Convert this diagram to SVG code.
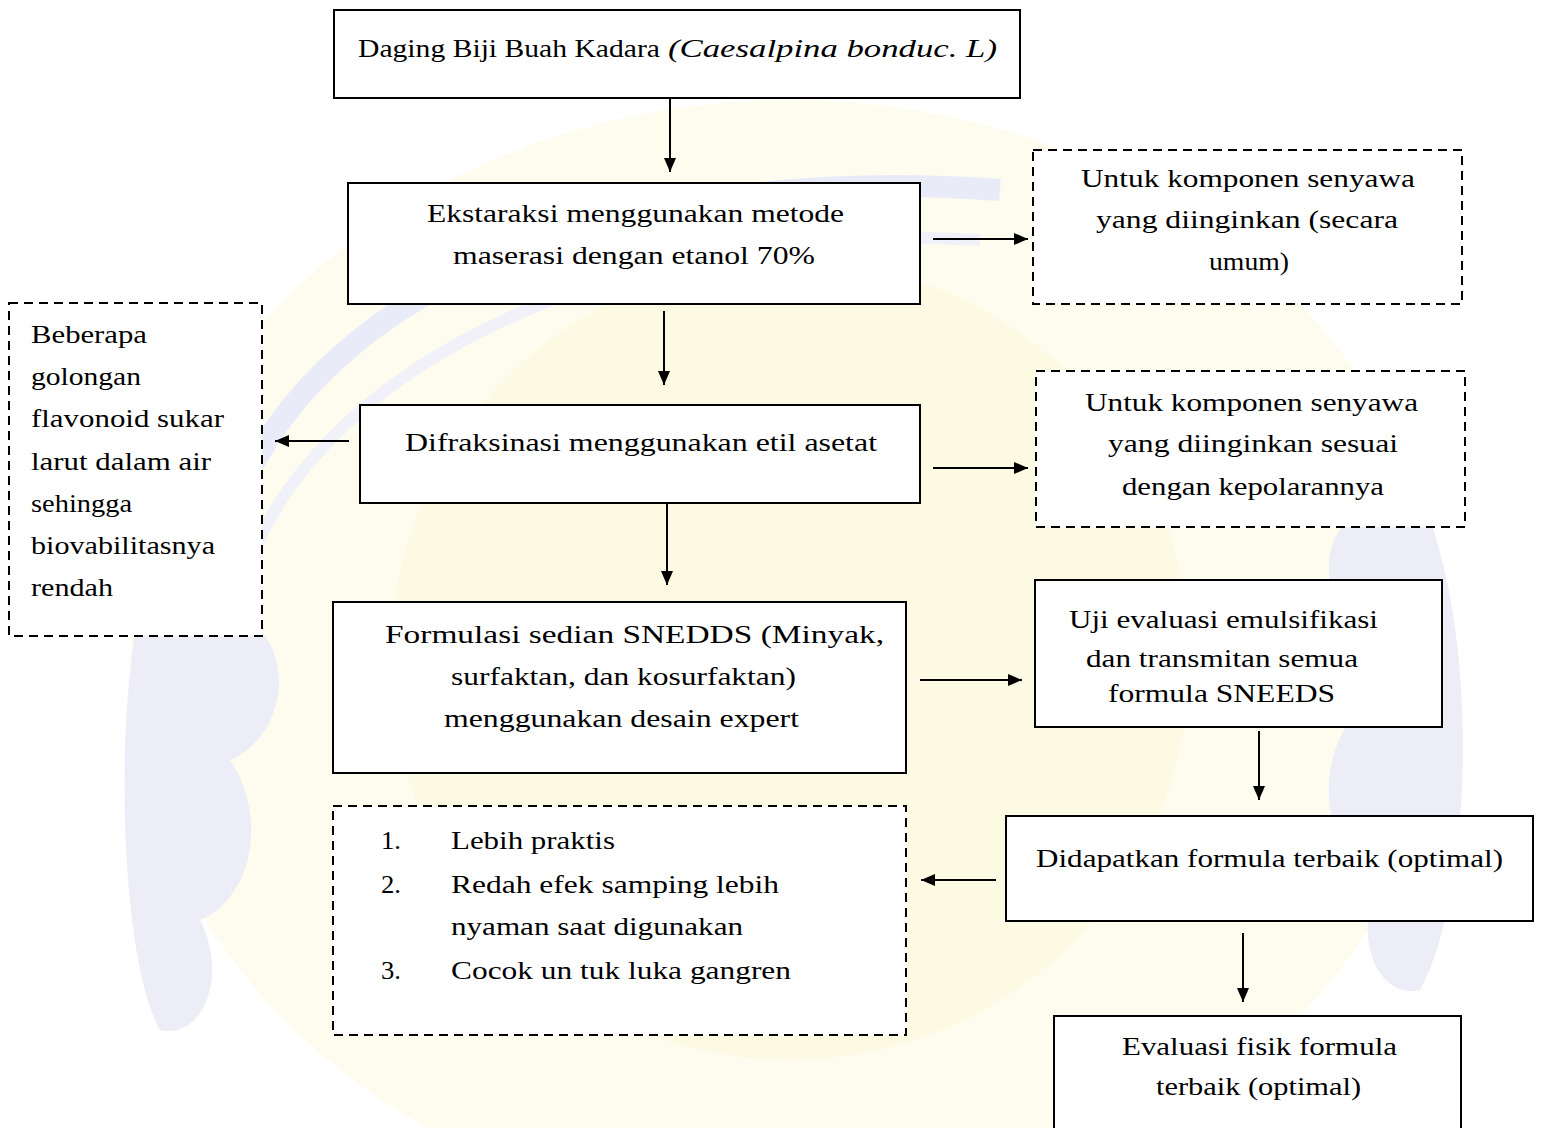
<svg xmlns="http://www.w3.org/2000/svg" width="1541" height="1128" viewBox="0 0 1541 1128">
<style>
  text { font-family: "Liberation Serif", "Times New Roman", serif; font-size: 26px; fill: #000; }
  .box { fill: #fff; stroke: #000; stroke-width: 2; }
  .dbox { fill: #fff; stroke: #000; stroke-width: 2; stroke-dasharray: 9 6; }
  .conn { stroke: #000; stroke-width: 2; fill: none; marker-end: url(#arrow); }
  .it { font-style: italic; }
</style>
<defs>
  <marker id="arrow" viewBox="0 0 14 12" refX="14" refY="6" markerWidth="14" markerHeight="12" markerUnits="userSpaceOnUse" orient="auto">
    <path d="M0,0 L14,6 L0,12 z" fill="#000"/>
  </marker>
</defs>
<rect width="1541" height="1128" fill="#fff"/>
<g id="watermark" opacity="0.5">
  <ellipse cx="790" cy="660" rx="660" ry="560" fill="#fdfbe0"/>
  <path d="M230,520 C300,300 600,160 1000,190" fill="none" stroke="#d6d8f2" stroke-width="22"/>
  <path d="M250,560 C330,360 620,220 980,240" fill="none" stroke="#e4e5f6" stroke-width="12"/>
  <circle cx="790" cy="660" r="400" fill="#fbf6c8"/>
  <path d="M150,560 C200,520 260,560 250,620 C300,660 280,740 230,760 C270,820 250,900 200,920 C230,980 200,1040 160,1030 C120,960 110,700 150,560 z" fill="#dcdcf2"/>
  <path d="M1430,520 C1380,480 1320,520 1330,580 C1280,620 1300,700 1350,720 C1310,780 1330,860 1380,880 C1350,940 1380,1000 1420,990 C1470,900 1480,660 1430,520 z" fill="#dcdcf2"/>
</g>
<g id="connectors">
  <line class="conn" x1="670" y1="98" x2="670" y2="172"/>
  <line class="conn" x1="933" y1="239" x2="1028" y2="239"/>
  <line class="conn" x1="664" y1="311" x2="664" y2="385"/>
  <line class="conn" x1="349" y1="441" x2="275" y2="441"/>
  <line class="conn" x1="933" y1="468" x2="1028" y2="468"/>
  <line class="conn" x1="667" y1="504" x2="667" y2="585"/>
  <line class="conn" x1="920" y1="680" x2="1022" y2="680"/>
  <line class="conn" x1="1259" y1="731" x2="1259" y2="800"/>
  <line class="conn" x1="996" y1="880" x2="921" y2="880"/>
  <line class="conn" x1="1243" y1="933" x2="1243" y2="1002"/>
</g>
<g id="n1">
  <rect class="box" x="334" y="10" width="686" height="88"/>
  <text x="358" y="57" textLength="302" lengthAdjust="spacingAndGlyphs">Daging  Biji  Buah  Kadara</text>
  <text class="it" x="668" y="57" textLength="329" lengthAdjust="spacingAndGlyphs">(Caesalpina bonduc. L)</text>
</g>
<g id="n2">
  <rect class="box" x="348" y="183" width="572" height="121"/>
  <text x="427" y="222" textLength="417" lengthAdjust="spacingAndGlyphs">Ekstaraksi  menggunakan  metode</text>
  <text x="453" y="264" textLength="362" lengthAdjust="spacingAndGlyphs">maserasi  dengan  etanol 70%</text>
</g>
<g id="n3">
  <rect class="dbox" x="1033" y="150" width="429" height="154"/>
  <text x="1081" y="187" textLength="334" lengthAdjust="spacingAndGlyphs">Untuk  komponen  senyawa</text>
  <text x="1096" y="228" textLength="302" lengthAdjust="spacingAndGlyphs">yang  diinginkan  (secara</text>
  <text x="1209" y="270" textLength="80" lengthAdjust="spacingAndGlyphs">umum)</text>
</g>
<g id="n4">
  <rect class="box" x="360" y="405" width="560" height="98"/>
  <text x="405" y="451" textLength="472" lengthAdjust="spacingAndGlyphs">Difraksinasi  menggunakan  etil  asetat</text>
</g>
<g id="n5">
  <rect class="dbox" x="1036" y="371" width="429" height="156"/>
  <text x="1085" y="411" textLength="333" lengthAdjust="spacingAndGlyphs">Untuk  komponen  senyawa</text>
  <text x="1108" y="452" textLength="290" lengthAdjust="spacingAndGlyphs">yang  diinginkan  sesuai</text>
  <text x="1122" y="495" textLength="262" lengthAdjust="spacingAndGlyphs">dengan  kepolarannya</text>
</g>
<g id="n6">
  <rect class="dbox" x="9" y="303" width="253" height="333"/>
  <text x="31" y="343" textLength="116" lengthAdjust="spacingAndGlyphs">Beberapa</text>
  <text x="31" y="385" textLength="110" lengthAdjust="spacingAndGlyphs">golongan</text>
  <text x="31" y="427" textLength="193" lengthAdjust="spacingAndGlyphs">flavonoid  sukar</text>
  <text x="31" y="470" textLength="180" lengthAdjust="spacingAndGlyphs">larut  dalam  air</text>
  <text x="31" y="512" textLength="101" lengthAdjust="spacingAndGlyphs">sehingga</text>
  <text x="31" y="554" textLength="184" lengthAdjust="spacingAndGlyphs">biovabilitasnya</text>
  <text x="31" y="596" textLength="82" lengthAdjust="spacingAndGlyphs">rendah</text>
</g>
<g id="n7">
  <rect class="box" x="333" y="602" width="573" height="171"/>
  <text x="385" y="643" textLength="499" lengthAdjust="spacingAndGlyphs">Formulasi  sedian  SNEDDS (Minyak,</text>
  <text x="451" y="685" textLength="345" lengthAdjust="spacingAndGlyphs">surfaktan,  dan kosurfaktan)</text>
  <text x="444" y="727" textLength="355" lengthAdjust="spacingAndGlyphs">menggunakan  desain  expert</text>
</g>
<g id="n8">
  <rect class="box" x="1035" y="580" width="407" height="147"/>
  <text x="1069" y="628" textLength="309" lengthAdjust="spacingAndGlyphs">Uji evaluasi  emulsifikasi</text>
  <text x="1086" y="667" textLength="272" lengthAdjust="spacingAndGlyphs">dan transmitan  semua</text>
  <text x="1108" y="702" textLength="227" lengthAdjust="spacingAndGlyphs">formula  SNEEDS</text>
</g>
<g id="n9">
  <rect class="box" x="1006" y="816" width="527" height="105"/>
  <text x="1036" y="867" textLength="467" lengthAdjust="spacingAndGlyphs">Didapatkan  formula  terbaik  (optimal)</text>
</g>
<g id="n10">
  <rect class="dbox" x="333" y="806" width="573" height="229"/>
  <text x="381" y="849" textLength="20" lengthAdjust="spacingAndGlyphs">1.</text>
  <text x="451" y="849" textLength="164" lengthAdjust="spacingAndGlyphs">Lebih  praktis</text>
  <text x="381" y="893" textLength="20" lengthAdjust="spacingAndGlyphs">2.</text>
  <text x="451" y="893" textLength="328" lengthAdjust="spacingAndGlyphs">Redah efek samping  lebih</text>
  <text x="451" y="935" textLength="292" lengthAdjust="spacingAndGlyphs">nyaman  saat digunakan</text>
  <text x="381" y="979" textLength="20" lengthAdjust="spacingAndGlyphs">3.</text>
  <text x="451" y="979" textLength="340" lengthAdjust="spacingAndGlyphs">Cocok un tuk luka  gangren</text>
</g>
<g id="n11">
  <rect class="box" x="1054" y="1016" width="407" height="125"/>
  <text x="1122" y="1055" textLength="275" lengthAdjust="spacingAndGlyphs">Evaluasi  fisik  formula</text>
  <text x="1156" y="1095" textLength="205" lengthAdjust="spacingAndGlyphs">terbaik  (optimal)</text>
</g>
</svg>
